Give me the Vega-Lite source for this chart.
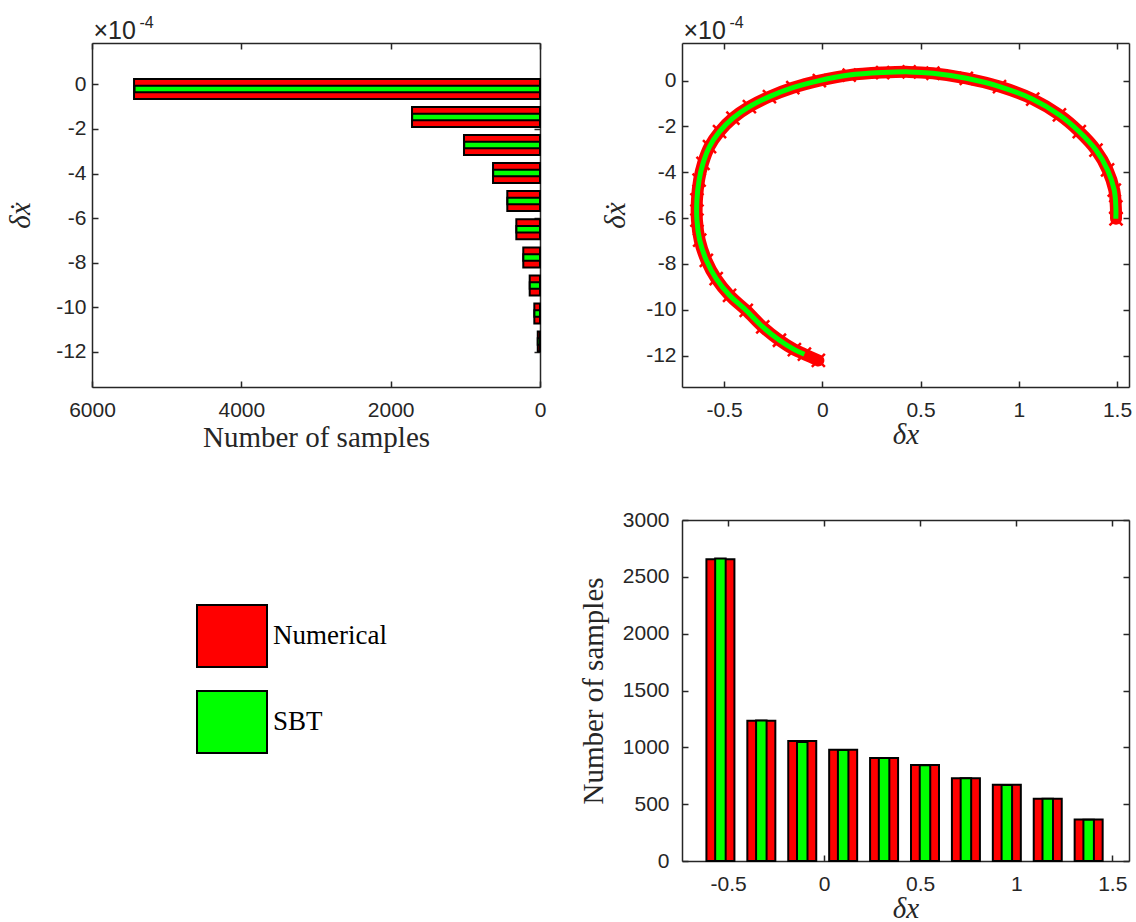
{
  "$schema": "https://vega.github.io/schema/vega-lite/v6.json",
  "autosize": {"type": "none"},
  "padding": {"left": 92, "top": 43, "right": 1044, "bottom": 879},
  "background": "white",
  "columns": 2,
  "bounds": "flush",
  "spacing": {"row": 133, "column": 142},
  "datasets": {
    "velocity_hist": [
      {"dv": -0.20, "count": 5437, "series": "Numerical"},
      {"dv": -1.46, "count": 1714, "series": "Numerical"},
      {"dv": -2.72, "count": 1018, "series": "Numerical"},
      {"dv": -3.98, "count": 629, "series": "Numerical"},
      {"dv": -5.24, "count": 438, "series": "Numerical"},
      {"dv": -6.51, "count": 317, "series": "Numerical"},
      {"dv": -7.77, "count": 224, "series": "Numerical"},
      {"dv": -9.03, "count": 138, "series": "Numerical"},
      {"dv": -10.29, "count": 76, "series": "Numerical"},
      {"dv": -11.55, "count": 30, "series": "Numerical"},
      {"dv": -0.20, "count": 5430, "series": "SBT"},
      {"dv": -1.46, "count": 1712, "series": "SBT"},
      {"dv": -2.72, "count": 1015, "series": "SBT"},
      {"dv": -3.98, "count": 627, "series": "SBT"},
      {"dv": -5.24, "count": 436, "series": "SBT"},
      {"dv": -6.51, "count": 316, "series": "SBT"},
      {"dv": -7.77, "count": 223, "series": "SBT"},
      {"dv": -9.03, "count": 137, "series": "SBT"},
      {"dv": -10.29, "count": 75, "series": "SBT"},
      {"dv": -11.55, "count": 30, "series": "SBT"}
    ],
    "position_hist": [
      {"dx": -0.540, "count": 2655, "series": "Numerical"},
      {"dx": -0.327, "count": 1233, "series": "Numerical"},
      {"dx": -0.114, "count": 1056, "series": "Numerical"},
      {"dx": 0.099, "count": 979, "series": "Numerical"},
      {"dx": 0.312, "count": 906, "series": "Numerical"},
      {"dx": 0.525, "count": 844, "series": "Numerical"},
      {"dx": 0.738, "count": 728, "series": "Numerical"},
      {"dx": 0.951, "count": 670, "series": "Numerical"},
      {"dx": 1.164, "count": 547, "series": "Numerical"},
      {"dx": 1.377, "count": 365, "series": "Numerical"},
      {"dx": -0.540, "count": 2662, "series": "SBT"},
      {"dx": -0.327, "count": 1236, "series": "SBT"},
      {"dx": -0.114, "count": 1047, "series": "SBT"},
      {"dx": 0.099, "count": 976, "series": "SBT"},
      {"dx": 0.312, "count": 906, "series": "SBT"},
      {"dx": 0.525, "count": 842, "series": "SBT"},
      {"dx": 0.738, "count": 729, "series": "SBT"},
      {"dx": 0.951, "count": 669, "series": "SBT"},
      {"dx": 1.164, "count": 547, "series": "SBT"},
      {"dx": 1.377, "count": 363, "series": "SBT"}
    ],
    "numerical_path": [
      {"dx": 1.495, "dv": -6.03},
      {"dx": 1.494, "dv": -5.51},
      {"dx": 1.486, "dv": -4.78},
      {"dx": 1.452, "dv": -3.90},
      {"dx": 1.393, "dv": -3.03},
      {"dx": 1.308, "dv": -2.23},
      {"dx": 1.207, "dv": -1.50},
      {"dx": 1.071, "dv": -0.81},
      {"dx": 0.902, "dv": -0.26},
      {"dx": 0.733, "dv": 0.10},
      {"dx": 0.563, "dv": 0.32},
      {"dx": 0.442, "dv": 0.38},
      {"dx": 0.307, "dv": 0.35},
      {"dx": 0.137, "dv": 0.24},
      {"dx": -0.015, "dv": 0.00},
      {"dx": -0.150, "dv": -0.31},
      {"dx": -0.269, "dv": -0.70},
      {"dx": -0.371, "dv": -1.14},
      {"dx": -0.455, "dv": -1.64},
      {"dx": -0.523, "dv": -2.23},
      {"dx": -0.574, "dv": -2.88},
      {"dx": -0.607, "dv": -3.61},
      {"dx": -0.627, "dv": -4.34},
      {"dx": -0.638, "dv": -5.21},
      {"dx": -0.638, "dv": -6.09},
      {"dx": -0.624, "dv": -6.96},
      {"dx": -0.590, "dv": -7.84},
      {"dx": -0.540, "dv": -8.64},
      {"dx": -0.472, "dv": -9.37},
      {"dx": -0.387, "dv": -10.03},
      {"dx": -0.303, "dv": -10.75},
      {"dx": -0.218, "dv": -11.33},
      {"dx": -0.142, "dv": -11.74},
      {"dx": -0.091, "dv": -11.94},
      {"dx": -0.020, "dv": -12.21}
    ],
    "sbt_path": [
      {"dx": 1.494, "dv": -6.03},
      {"dx": 1.494, "dv": -5.51},
      {"dx": 1.486, "dv": -4.78},
      {"dx": 1.452, "dv": -3.90},
      {"dx": 1.393, "dv": -3.03},
      {"dx": 1.308, "dv": -2.23},
      {"dx": 1.207, "dv": -1.50},
      {"dx": 1.071, "dv": -0.81},
      {"dx": 0.902, "dv": -0.26},
      {"dx": 0.733, "dv": 0.10},
      {"dx": 0.563, "dv": 0.32},
      {"dx": 0.442, "dv": 0.38},
      {"dx": 0.307, "dv": 0.35},
      {"dx": 0.137, "dv": 0.24},
      {"dx": -0.015, "dv": 0.00},
      {"dx": -0.150, "dv": -0.31},
      {"dx": -0.269, "dv": -0.70},
      {"dx": -0.371, "dv": -1.14},
      {"dx": -0.455, "dv": -1.64},
      {"dx": -0.523, "dv": -2.23},
      {"dx": -0.574, "dv": -2.88},
      {"dx": -0.607, "dv": -3.61},
      {"dx": -0.627, "dv": -4.34},
      {"dx": -0.638, "dv": -5.21},
      {"dx": -0.638, "dv": -6.09},
      {"dx": -0.624, "dv": -6.96},
      {"dx": -0.590, "dv": -7.84},
      {"dx": -0.540, "dv": -8.64},
      {"dx": -0.472, "dv": -9.37},
      {"dx": -0.387, "dv": -10.03},
      {"dx": -0.303, "dv": -10.75},
      {"dx": -0.218, "dv": -11.33},
      {"dx": -0.142, "dv": -11.74},
      {"dx": -0.091, "dv": -11.94}
    ]
  },
  "concat": [
    {
      "width": 448,
      "height": 344,
      "data": {"name": "velocity_hist"},
      "resolve": {"axis": {"x": "independent", "y": "independent"}},
      "layer": [
        {
          "transform": [{"filter": "datum.series === 'Numerical'"}],
          "mark": {"type": "bar", "orient": "horizontal", "height": 20, "fill": "#ff0000", "stroke": "#000000", "strokeWidth": 2},
          "encoding": {
            "x": {"field": "count", "type": "quantitative", "stack": null,
                  "scale": {"domain": [0, 6000], "reverse": true, "nice": false},
                  "axis": {"orient": "bottom", "values": [0, 2000, 4000, 6000], "title": "Number of samples", "labelPadding": 18, "titlePadding": 3, "labelExpr": "toString(datum.value)"}},
            "y": {"field": "dv", "type": "quantitative",
                  "scale": {"domain": [-13.37, 1.64], "nice": false, "zero": false},
                  "axis": {"orient": "left", "values": [-12, -10, -8, -6, -4, -2, 0], "title": "δẋ", "titleFontStyle": "italic", "titlePadding": 20, "labelExpr": "toString(datum.value)"}}
          }
        },
        {
          "transform": [{"filter": "datum.series === 'SBT'"}],
          "mark": {"type": "bar", "orient": "horizontal", "height": 6.5, "fill": "#00ff00", "stroke": "#000000", "strokeWidth": 2},
          "encoding": {
            "x": {"field": "count", "type": "quantitative", "stack": null,
                  "axis": {"orient": "top", "values": [0, 2000, 4000, 6000], "labels": false,
                           "title": "×10", "titleX": 1, "titleY": -5, "titleAngle": 0, "titleAlign": "left", "titleBaseline": "alphabetic",
                           "titleFont": "Liberation Sans", "titleFontSize": 25, "titleFontStyle": "normal"}},
            "y": {"field": "dv", "type": "quantitative",
                  "axis": {"orient": "right", "values": [-12, -10, -8, -6, -4, -2, 0], "labels": false,
                           "title": "-4", "titleX": -401, "titleY": -16, "titleAngle": 0, "titleAlign": "left", "titleBaseline": "alphabetic",
                           "titleFont": "Liberation Sans", "titleFontSize": 16, "titleFontStyle": "normal"}}
          }
        }
      ]
    },
    {
      "width": 447,
      "height": 344,
      "resolve": {"axis": {"x": "independent", "y": "independent"}},
      "layer": [
        {
          "data": {"name": "numerical_path"},
          "mark": {"type": "line", "color": "#ff0000", "strokeWidth": 12, "interpolate": "catmull-rom", "strokeCap": "round", "strokeJoin": "round"},
          "encoding": {
            "x": {"field": "dx", "type": "quantitative",
                  "scale": {"domain": [-0.714, 1.561], "nice": false, "zero": false},
                  "axis": {"orient": "bottom", "values": [-0.5, 0, 0.5, 1, 1.5], "title": "δx", "titleFontStyle": "italic", "labelPadding": 18, "titlePadding": 0, "labelExpr": "toString(datum.value)"}},
            "y": {"field": "dv", "type": "quantitative",
                  "scale": {"domain": [-13.37, 1.64], "nice": false, "zero": false},
                  "axis": {"orient": "left", "values": [-12, -10, -8, -6, -4, -2, 0], "title": "δẋ", "titleFontStyle": "italic", "titlePadding": 15, "labelExpr": "toString(datum.value)"}},
            "order": {"value": null}
          }
        },
        {
          "data": {"name": "numerical_path"},
          "mark": {"type": "point", "shape": "M-1,-1L1,1M-1,1L1,-1", "filled": false, "stroke": "#ff0000", "strokeWidth": 2.5, "size": 169, "opacity": 1},
          "encoding": {
            "x": {"field": "dx", "type": "quantitative", "axis": null},
            "y": {"field": "dv", "type": "quantitative", "axis": null}
          }
        },
        {
          "data": {"name": "sbt_path"},
          "mark": {"type": "line", "color": "#00ff00", "strokeWidth": 5, "interpolate": "catmull-rom"},
          "encoding": {
            "x": {"field": "dx", "type": "quantitative",
                  "axis": {"orient": "top", "values": [-0.5, 0, 0.5, 1, 1.5], "labels": false,
                           "title": "×10", "titleX": 1, "titleY": -5, "titleAngle": 0, "titleAlign": "left", "titleBaseline": "alphabetic",
                           "titleFont": "Liberation Sans", "titleFontSize": 25, "titleFontStyle": "normal"}},
            "y": {"field": "dv", "type": "quantitative",
                  "axis": {"orient": "right", "values": [-12, -10, -8, -6, -4, -2, 0], "labels": false,
                           "title": "-4", "titleX": -400, "titleY": -16, "titleAngle": 0, "titleAlign": "left", "titleBaseline": "alphabetic",
                           "titleFont": "Liberation Sans", "titleFontSize": 16, "titleFontStyle": "normal"}},
            "order": {"value": null}
          }
        }
      ]
    },
    {
      "width": 448,
      "height": 341,
      "data": {"values": []},
      "mark": "point",
      "encoding": {}
    },
    {
      "width": 447,
      "height": 341,
      "data": {"name": "position_hist"},
      "resolve": {"axis": {"x": "independent", "y": "independent"}},
      "layer": [
        {
          "transform": [{"filter": "datum.series === 'Numerical'"}],
          "mark": {"type": "bar", "orient": "vertical", "width": 28, "stroke": "#000000", "strokeWidth": 2},
          "encoding": {
            "x": {"field": "dx", "type": "quantitative",
                  "scale": {"domain": [-0.714, 1.561], "nice": false, "zero": false},
                  "axis": {"orient": "bottom", "values": [-0.5, 0, 0.5, 1, 1.5], "title": "δx", "titleFontStyle": "italic", "labelPadding": 18, "titlePadding": 0, "labelExpr": "toString(datum.value)"}},
            "y": {"field": "count", "type": "quantitative", "stack": null,
                  "scale": {"domain": [0, 3000], "nice": false},
                  "axis": {"orient": "left", "values": [0, 500, 1000, 1500, 2000, 2500, 3000], "title": "Number of samples", "titlePadding": 14, "labelPadding": 19, "labelExpr": "toString(datum.value)"}},
            "fill": {"field": "series", "type": "nominal",
                     "scale": {"domain": ["Numerical", "SBT"], "range": ["#ff0000", "#00ff00"]},
                     "legend": {"orient": "none", "legendX": 104, "legendY": 557, "title": null,
                                "symbolType": "M-1,-0.886H1V0.886H-1Z", "symbolSize": 4900,
                                "symbolStrokeColor": "#000000", "symbolStrokeWidth": 2, "symbolOpacity": 1,
                                "labelFont": "Liberation Serif", "labelFontSize": 27, "labelColor": "#000000",
                                "labelOffset": 5, "rowPadding": 14, "padding": 0, "labelLimit": 0}}
          }
        },
        {
          "transform": [{"filter": "datum.series === 'SBT'"}],
          "mark": {"type": "bar", "orient": "vertical", "width": 10.5, "stroke": "#000000", "strokeWidth": 2},
          "encoding": {
            "x": {"field": "dx", "type": "quantitative",
                  "axis": {"orient": "top", "values": [-0.5, 0, 0.5, 1, 1.5], "labels": false, "title": null}},
            "y": {"field": "count", "type": "quantitative", "stack": null,
                  "axis": {"orient": "right", "values": [0, 500, 1000, 1500, 2000, 2500, 3000], "labels": false, "title": null}},
            "fill": {"field": "series", "type": "nominal"}
          }
        }
      ]
    }
  ],
  "config": {
    "view": {"stroke": null},
    "axis": {
      "grid": false,
      "domainColor": "#262626",
      "domainWidth": 1.5,
      "tickColor": "#262626",
      "tickWidth": 1.5,
      "tickSize": -6,
      "labelFont": "Liberation Sans",
      "labelFontSize": 21,
      "labelColor": "#262626",
      "labelPadding": 12,
      "labelFlush": false,
      "labelOverlap": false,
      "titleFont": "Liberation Serif",
      "titleFontSize": 29,
      "titleFontWeight": "normal",
      "titleColor": "#262626"
    }
  }
}
